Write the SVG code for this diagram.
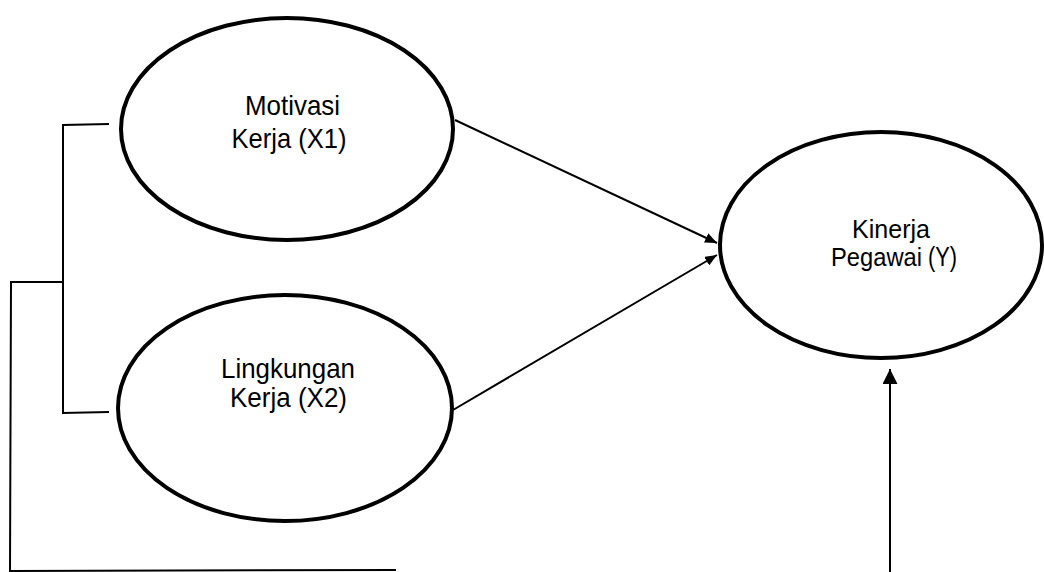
<svg xmlns="http://www.w3.org/2000/svg" width="1044" height="572" viewBox="0 0 1044 572">
<style>
.node{fill:#fff;stroke:#000;stroke-width:4}
.lbl{font-family:"Liberation Sans",Arial,sans-serif;font-size:28px;fill:#000;text-anchor:middle}
.sm{font-size:25px}
.con{fill:none;stroke:#000;stroke-width:2}
</style>
<defs>
<marker id="ah" viewBox="0 0 12 10" refX="12" refY="5" markerWidth="12" markerHeight="10" markerUnits="userSpaceOnUse" orient="auto">
<path d="M0,0 L12,5 L0,10 Z" fill="#000"/>
</marker>
<marker id="ahv" viewBox="0 0 15 15" refX="15" refY="7.5" markerWidth="15" markerHeight="15" markerUnits="userSpaceOnUse" orient="auto">
<path d="M0,0 L15,7.5 L0,15 Z" fill="#000"/>
</marker>
</defs>
<rect width="1044" height="572" fill="#fff"/>
<g id="connectors">
<line class="con" x1="455" y1="120" x2="717" y2="243" marker-end="url(#ah)"/>
<line class="con" x1="453" y1="410" x2="717" y2="255" marker-end="url(#ah)"/>
<line class="con" x1="890" y1="572" x2="890" y2="369" marker-end="url(#ahv)"/>
<polyline class="con" points="109,124 63,125 63,413 109,412"/>
<polyline class="con" points="63,282 11,282 10,571 396,570"/>
</g>
<g id="motivasi">
<ellipse class="node" cx="287" cy="129" rx="166" ry="111"/>
<text class="lbl" x="292.5" y="115" textLength="95" lengthAdjust="spacingAndGlyphs">Motivasi</text>
<text class="lbl" x="289" y="148" textLength="115" lengthAdjust="spacingAndGlyphs">Kerja (X1)</text>
</g>
<g id="lingkungan">
<ellipse class="node" cx="285" cy="408" rx="167" ry="113"/>
<text class="lbl" x="288" y="378" textLength="134" lengthAdjust="spacingAndGlyphs">Lingkungan</text>
<text class="lbl" x="288.5" y="407" textLength="117" lengthAdjust="spacingAndGlyphs">Kerja (X2)</text>
</g>
<g id="kinerja">
<ellipse class="node" cx="881" cy="245" rx="161" ry="113"/>
<text class="lbl sm" x="891" y="238" textLength="78" lengthAdjust="spacingAndGlyphs">Kinerja</text>
<text class="lbl sm" x="876.5" y="266" textLength="91" lengthAdjust="spacingAndGlyphs">Pegawai</text>
<text class="lbl" x="942.5" y="266" font-size="21px" textLength="29" lengthAdjust="spacingAndGlyphs">(Y)</text>
</g>
</svg>
